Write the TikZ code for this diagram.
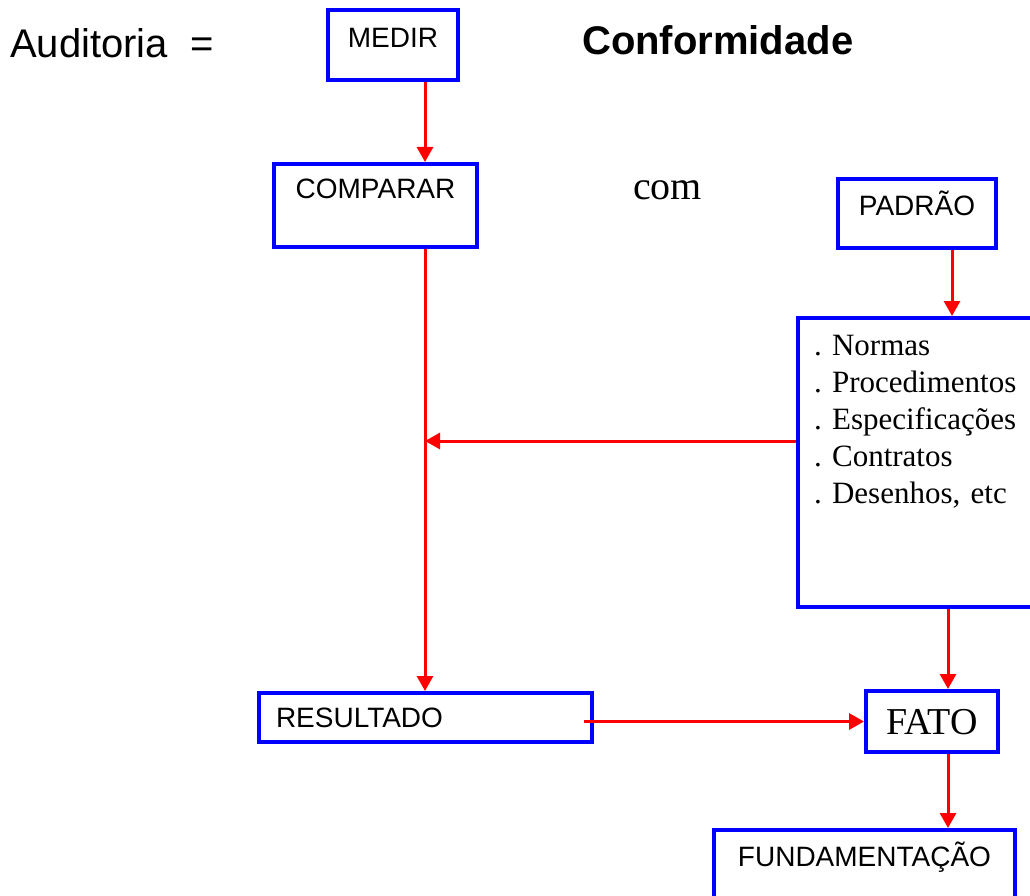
\documentclass[tikz,border=0pt]{standalone}
\usepackage{fontspec}
\setmainfont{Liberation Sans}
\newfontfamily\serifa{Liberation Serif}
\usetikzlibrary{arrows.meta,calc}
\frenchspacing

\begin{document}
\begin{tikzpicture}[
  x=1pt, y=-1pt,
  font=\fontsize{28}{34}\selectfont,
  >={Triangle[width=16pt,length=15pt]},
  caixa/.style={draw=blue,line width=4pt,inner sep=0pt,anchor=base},
  seta/.style={->,red,line width=3pt},
  titulo/.style={anchor=base west,inner sep=0pt}
]
\useasboundingbox (0,0) rectangle (1030,896);

% ---- Title line ----
\node[titulo,font=\fontsize{40}{48}\selectfont] (auditoria) at (10,58) {Auditoria\ \ =};
\node[titulo,font=\fontsize{40}{48}\selectfont\bfseries] (conf) at (582,55) {Conformidade};
\node[titulo,font=\fontsize{40}{48}\selectfont\serifa] (com) at (633,200) {com};

% ---- Boxes ----
\node[caixa,minimum width=130pt,text height=38pt,text depth=32pt] (medir) at (393,48) {MEDIR};
\node[caixa,minimum width=203pt,text height=35pt,text depth=48pt] (comparar) at (375.5,199) {COMPARAR};
\node[caixa,minimum width=158pt,text height=36pt,text depth=33pt] (padrao) at (917,215) {PADRÃO};
\node[caixa,anchor=base west,align=left,text width=230pt,inner xsep=16pt,
      text height=37pt,text depth=252pt,font=\fontsize{31}{37}\selectfont\serifa] (padroes) at (796,355)
  {. Normas\\. Procedimentos\\. Especificações\\. Contratos\\. Desenhos, etc};
\node[caixa,anchor=base west,inner xsep=17pt,text height=34pt,text depth=15pt] (resultado) at (257,727)
  {\makebox[299pt][l]{RESULTADO}};
\node[caixa,minimum width=132pt,text height=43pt,text depth=18pt,font=\fontsize{38}{46}\selectfont\serifa] (fato) at (932,734) {FATO};
\node[caixa,minimum width=301pt,text height=36pt,text depth=40pt] (fund) at (864.5,866) {FUNDAMENTAÇÃO};

% ---- Arrows ----
\coordinate (eixo) at (425,441);
\coordinate (colpadrao) at ([xshift=35pt]padrao.south);
\coordinate (colfato) at ([xshift=16pt]fato.north);

\draw[seta] (medir.south -| eixo) -- (comparar.north -| eixo);
\draw[seta] (comparar.south -| eixo) -- (resultado.north -| eixo);
\draw[seta] (padroes.west |- eixo) -- (eixo);
\draw[seta] (colpadrao) -- (padroes.north -| colpadrao);
\draw[seta] (padroes.south -| colfato) -- (colfato);
\draw[seta] ($(resultado.east |- fato.west)+(-10,0)$) -- (fato.west);
\draw[seta] (colfato |- fato.south) -- (colfato |- fund.north);

\end{tikzpicture}
\end{document}
